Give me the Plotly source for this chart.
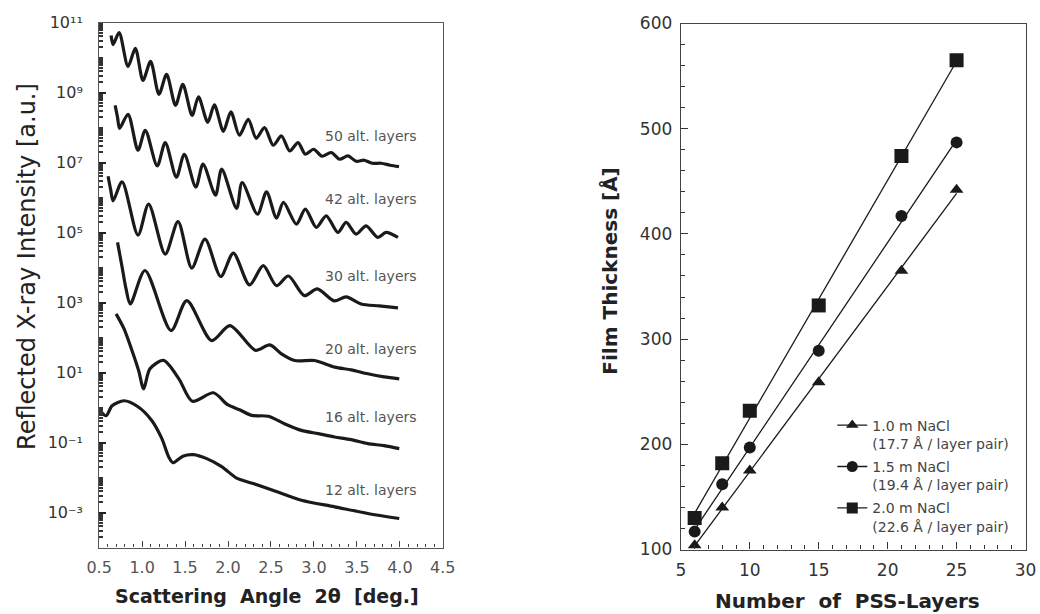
import numpy as np
import plotly.graph_objects as go

# ---------------- Left panel: X-ray reflectivity curves (log10 intensity) ----------------
angle_50 = [0.639, 0.662, 0.732, 0.836, 0.921, 1.010, 1.099, 1.196, 1.285, 1.389, 1.474, 1.582, 1.656,
            1.764, 1.841, 1.946, 2.033, 2.132, 2.236, 2.328, 2.425, 2.526, 2.622, 2.718, 2.815, 2.900,
            2.996, 3.094, 3.201, 3.298, 3.395, 3.491, 3.584, 3.677, 3.781, 3.886, 3.990]
logI_50 = [10.63, 10.37, 10.71, 9.745, 10.26, 9.346, 9.888, 8.947, 9.517, 8.633, 9.232, 8.348, 8.876,
           8.149, 8.648, 7.892, 8.448, 7.778, 8.234, 7.692, 7.997, 7.493, 7.758, 7.330, 7.570, 7.236,
           7.379, 7.179, 7.285, 7.094, 7.188, 7.036, 7.065, 6.979, 6.979, 6.922, 6.880]

angle_42 = [0.686, 0.714, 0.738, 0.836, 0.952, 1.037, 1.176, 1.269, 1.399, 1.491, 1.625, 1.709, 1.854,
            1.926, 2.100, 2.164, 2.343, 2.448, 2.564, 2.645, 2.796, 2.900, 3.028, 3.143, 3.279, 3.375,
            3.491, 3.607, 3.743, 3.839, 3.978]
logI_42 = [8.633, 8.291, 7.977, 8.377, 7.350, 7.920, 6.903, 7.570, 6.580, 7.236, 6.295, 6.951, 6.067,
           6.808, 5.688, 6.429, 5.525, 6.161, 5.411, 5.859, 5.240, 5.668, 5.146, 5.477, 5.003, 5.289,
           4.955, 5.192, 4.861, 5.003, 4.861]

angle_30 = [0.604, 0.633, 0.662, 0.767, 0.952, 1.076, 1.269, 1.418, 1.578, 1.732, 1.915, 2.062, 2.251,
            2.410, 2.564, 2.703, 2.888, 3.039, 3.236, 3.375, 3.549, 3.758, 3.978]
logI_30 = [6.609, 6.238, 5.904, 6.446, 4.926, 5.810, 4.385, 5.311, 3.985, 4.812, 3.743, 4.413, 3.501,
           4.051, 3.481, 3.757, 3.196, 3.387, 3.045, 3.159, 2.959, 2.902, 2.845]

angle_20 = [0.714, 0.767, 0.813, 0.863, 1.033, 1.337, 1.520, 1.810, 2.022, 2.320, 2.486, 2.622, 2.776,
            3.008, 3.240, 3.433, 3.627, 3.816, 3.993]
logI_20 = [4.718, 4.014, 3.387, 2.959, 3.914, 2.198, 3.053, 1.913, 2.340, 1.633, 1.790, 1.533, 1.342,
           1.342, 1.154, 1.077, 0.963, 0.877, 0.820]

angle_16 = [0.697, 0.790, 0.883, 0.960, 1.018, 1.091, 1.250, 1.428, 1.584, 1.830, 1.996, 2.135, 2.274,
            2.468, 2.657, 2.854, 3.051, 3.240, 3.433, 3.627, 3.816, 3.993]
logI_16 = [2.674, 2.246, 1.619, 1.048, 0.535, 1.106, 1.348, 0.820, 0.179, 0.421, 0.079, -0.064, -0.226,
           -0.249, -0.463, -0.654, -0.748, -0.842, -0.919, -1.033, -1.090, -1.176]

angle_12 = [0.512, 0.581, 0.651, 0.790, 0.952, 1.114, 1.230, 1.308, 1.358, 1.474, 1.598, 1.752, 1.926,
            2.100, 2.294, 2.529, 2.854, 3.240, 3.627, 3.993]
logI_12 = [-0.092, -0.235, 0.051, 0.193, 0.022, -0.377, -0.891, -1.404, -1.575, -1.390, -1.347, -1.461,
           -1.689, -2.017, -2.173, -2.373, -2.650, -2.838, -3.029, -3.172]

curve_labels = ["50 alt. layers", "42 alt. layers", "30 alt. layers",
                "20 alt. layers", "16 alt. layers", "12 alt. layers"]

# log-axis tick labels
intensity_ticks = [1e-3, 1e-1, 1e1, 1e3, 1e5, 1e7, 1e9, 1e11]
intensity_tick_text = ["10⁻³", "10⁻¹", "10¹", "10³", "10⁵", "10⁷", "10⁹", "10¹¹"]

# ---------------- Right panel: film thickness vs. number of PSS layers ----------------
pss_layers = [6, 8, 10, 15, 21, 25]
thick_10 = [104, 140, 175, 259, 365, 442]
thick_15 = [117, 162, 197, 289, 417, 487]
thick_20 = [130, 182, 232, 332, 474, 565]
series_names = ["1.0 m NaCl<br>(17.7 Å / layer pair)",
                "1.5 m NaCl<br>(19.4 Å / layer pair)",
                "2.0 m NaCl<br>(22.6 Å / layer pair)"]
series_symbols = ["triangle-up", "circle", "square"]

W, H = 1040, 614
FONT = "Liberation Sans, Arial, sans-serif"
WIDE = "DejaVu Sans, sans-serif"
INK = "#1a1a1a"

# photographed drawing area is about 1018x594 px, offset ~10 px
def px(xp):
    return (xp - 10.5) / 1018.0

def py(yp):
    return 1 - (yp - 10.5) / 594.0

fig = go.Figure()

left_curves = [(angle_50, logI_50), (angle_42, logI_42), (angle_30, logI_30),
               (angle_20, logI_20), (angle_16, logI_16), (angle_12, logI_12)]
for ang, li in left_curves:
    fig.add_trace(go.Scatter(
        x=ang, y=np.power(10.0, np.array(li)), mode="lines",
        line=dict(color=INK, width=3.2, shape="spline", smoothing=0.8),
        showlegend=False, xaxis="x", yaxis="y"))

label_y = [7.75, 5.95, 3.76, 1.68, -0.26, -2.35]
for txt, ly in zip(curve_labels, label_y):
    fig.add_annotation(x=3.66, y=ly, xref="x", yref="y", text=txt, showarrow=False,
                       xanchor="center", yanchor="middle",
                       font=dict(family=WIDE, size=14, color="#555"))

# right panel traces
series = [thick_10, thick_15, thick_20]
xs = np.array(pss_layers, dtype=float)
for vals, name, sym in zip(series, series_names, series_symbols):
    coef = np.polyfit(xs, np.array(vals, dtype=float), 1)
    xf = np.array([xs.min(), xs.max()])
    fig.add_trace(go.Scatter(x=xf, y=np.polyval(coef, xf), mode="lines",
                             line=dict(color=INK, width=1.3), showlegend=False,
                             xaxis="x2", yaxis="y2"))
    fig.add_trace(go.Scatter(x=pss_layers, y=vals, mode="markers",
                             marker=dict(symbol=sym, size=14 if sym == "square" else 12, color=INK),
                             showlegend=False, xaxis="x2", yaxis="y2"))
    fig.add_trace(go.Scatter(x=[None], y=[None], mode="lines+markers", name=name,
                             legendgroup=name,
                             marker=dict(symbol=sym, size=11, color=INK),
                             line=dict(color=INK, width=1.3),
                             xaxis="x2", yaxis="y2"))

minor_vals = [m * 10.0 ** e for e in range(-4, 11) for m in range(2, 10)] + \
             [10.0 ** e for e in range(-4, 11, 2)]

fig.update_layout(
    width=W, height=H,
    margin=dict(l=0, r=0, t=0, b=0),
    paper_bgcolor="white", plot_bgcolor="white",
    font=dict(family=FONT, color="#333"),
    xaxis=dict(domain=[px(97), px(442)], range=[0.5, 4.5], anchor="y",
               tickvals=[0.5, 1.0, 1.5, 2.0, 2.5, 3.0, 3.5, 4.0, 4.5],
               ticktext=["0.5", "1.0", "1.5", "2.0", "2.5", "3.0", "3.5", "4.0", "4.5"],
               ticks="inside", ticklen=6, tickcolor="#444", tickwidth=1.2,
               minor=dict(ticks="inside", ticklen=3, dtick=0.1, tickcolor="#444"),
               showline=True, mirror=True, linecolor="#555", linewidth=1.2,
               showgrid=False, zeroline=False, ticklabelstandoff=5,
               tickfont=dict(family=WIDE, size=16, color="#555")),
    yaxis=dict(domain=[py(548), py(23)], type="log", range=[-4, 11], anchor="x",
               tickvals=intensity_ticks, ticktext=intensity_tick_text,
               ticks="inside", ticklen=7, tickcolor="#222", tickwidth=1.5,
               minor=dict(ticks="inside", ticklen=4, tickvals=minor_vals, tickcolor="#333"),
               showline=True, mirror=True, linecolor="#555", linewidth=1.2,
               showgrid=False, zeroline=False, ticklabelstandoff=12,
               tickfont=dict(family=WIDE, size=16, color="#333")),
    xaxis2=dict(domain=[px(681), px(1027)], range=[5, 30], anchor="y2",
                tickvals=[5, 10, 15, 20, 25, 30],
                ticks="inside", ticklen=7, tickcolor="#333", tickwidth=1.2,
                minor=dict(ticks="inside", ticklen=4, dtick=1, tickcolor="#333"),
                showline=True, mirror=True, linecolor="#444", linewidth=1.3,
                showgrid=False, zeroline=False, ticklabelstandoff=5,
                tickfont=dict(family=WIDE, size=17, color="#333")),
    yaxis2=dict(domain=[py(550), py(24)], range=[100, 600], anchor="x2",
                tickvals=[100, 200, 300, 400, 500, 600],
                ticks="inside", ticklen=7, tickcolor="#333", tickwidth=1.2,
                minor=dict(ticks="inside", ticklen=4, dtick=20, tickcolor="#333"),
                showline=True, mirror=True, linecolor="#444", linewidth=1.3,
                showgrid=False, zeroline=False, ticklabelstandoff=4,
                tickfont=dict(family=WIDE, size=17, color="#333")),
    legend=dict(x=px(833), y=py(410), xanchor="left", yanchor="top",
                bgcolor="rgba(0,0,0,0)", font=dict(family=WIDE, size=14, color="#444"),
                tracegroupgap=2, valign="top", itemwidth=30),
)

# axis titles
fig.add_annotation(x=px(24), y=py(267), xref="paper", yref="paper", showarrow=False,
                   xanchor="center", yanchor="middle",
                   text="Reflected X-ray Intensity [a.u.]", textangle=-90,
                   font=dict(family=WIDE, size=24, color="#222"))
fig.add_annotation(x=px(265), y=py(596), xref="paper", yref="paper", showarrow=False,
                   xanchor="center", yanchor="middle",
                   text="<b>Scattering&nbsp;&nbsp;Angle&nbsp;&nbsp;2θ&nbsp;&nbsp;[deg.]</b>",
                   font=dict(family=WIDE, size=19, color="#222"))
fig.add_annotation(x=px(609), y=py(272), xref="paper", yref="paper", showarrow=False,
                   xanchor="center", yanchor="middle",
                   text="<b>Film Thickness [Å]</b>", textangle=-90,
                   font=dict(family=WIDE, size=20, color="#222"))
fig.add_annotation(x=px(848), y=py(601), xref="paper", yref="paper", showarrow=False,
                   xanchor="center", yanchor="middle",
                   text="<b>Number&nbsp;&nbsp;of&nbsp;&nbsp;PSS-Layers</b>",
                   font=dict(family=WIDE, size=20, color="#222"))

fig.write_html("out.html")
